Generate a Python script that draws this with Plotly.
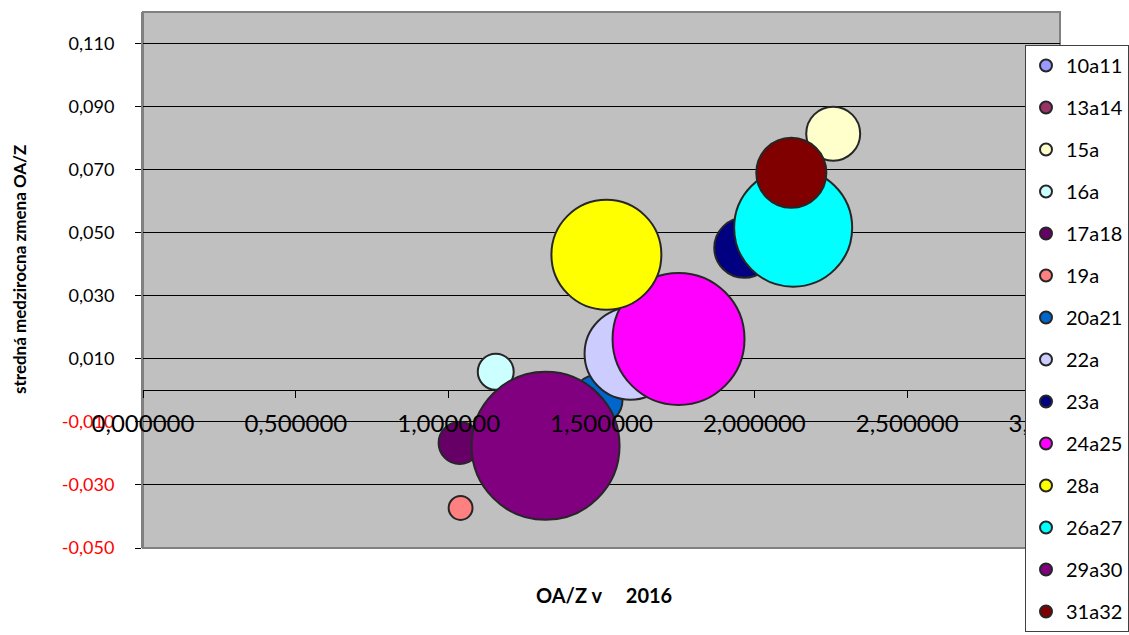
import plotly.graph_objects as go

series = ["10a11", "13a14", "15a", "16a", "17a18", "19a", "20a21", "22a",
          "23a", "24a25", "28a", "26a27", "29a30", "31a32"]
oa_z_2016 = [1.30, 2.15, 2.258, 1.154, 1.036, 1.039, 1.487, 1.595,
             1.967, 1.752, 1.516, 2.127, 1.317, 2.121]
zmena = [-0.018, 0.050, 0.0814, 0.0059, -0.0167, -0.0373, -0.0030, 0.0116,
         0.0452, 0.0163, 0.0430, 0.0516, -0.0176, 0.0690]
velkost = [4.0, 4.0, 13.3, 5.9, 8.1, 2.6, 11.4, 38.6,
           16.4, 79.5, 55.2, 63.6, 100.0, 22.4]
colors = ["#9999FF", "#993366", "#FFFFCC", "#CCFFFF", "#660066", "#FF8080", "#0066CC",
          "#CCCCFF", "#000080", "#FF00FF", "#FFFF00", "#00FFFF", "#800080", "#800000"]

y_ticks = [-0.05, -0.03, -0.01, 0.01, 0.03, 0.05, 0.07, 0.09, 0.11]
x_ticks = [0, 0.5, 1.0, 1.5, 2.0, 2.5, 3.0]

FONT = "Lato"
y_range = [-0.05, 0.12]
x_range = [0, 3]
zero_pos = (0 - y_range[0]) / (y_range[1] - y_range[0])

fig = go.Figure()
sizeref = 2 * 100.0 / 148 ** 2
for i, name in enumerate(series):
    fig.add_trace(go.Scatter(
        x=[oa_z_2016[i]], y=[zmena[i]], name=name, mode="markers",
        legendgroup=name,
        marker=dict(size=[velkost[i]], sizemode="area", sizeref=sizeref, opacity=1,
                    color=colors[i], line=dict(color="#262626", width=2)),
    ))

def fmt_y(v):
    s = f"{v:.3f}".replace(".", ",")
    if v < 0:
        return f'<span style="color:#FF0000">{s}</span>'
    return s

fig.update_layout(
    width=1129, height=635,
    margin=dict(l=143, r=69, t=12, b=87, autoexpand=False),
    paper_bgcolor="white", plot_bgcolor="#C0C0C0",
    font=dict(family=FONT, color="black"),
    showlegend=True,
    legend=dict(x=(1025 - 143) / 917, y=(548 - 45) / 536, xanchor="left", yanchor="top",
                bgcolor="white", bordercolor="#404040", borderwidth=1,
                font=dict(size=20, family=FONT), itemsizing="constant",
                tracegroupgap=13, maxheight=800, itemwidth=30),
    xaxis=dict(range=x_range, anchor="free", position=zero_pos,
               showline=True, linecolor="black", linewidth=1,
               ticks="outside", ticklen=7, tickcolor="black",
               tickvals=x_ticks, showticklabels=False,
               showgrid=False, zeroline=False, layer="below traces"),
    xaxis2=dict(range=x_range, overlaying="x", anchor="free", position=zero_pos,
                side="bottom", showline=False, ticks="", tickvals=x_ticks,
                ticktext=[f"{v:.6f}".replace(".", ",") for v in x_ticks],
                tickfont=dict(size=24, family=FONT), ticklabelstandoff=17,
                showgrid=False, zeroline=False, layer="above traces"),
    yaxis=dict(range=y_range, showline=True, linecolor="#808080", linewidth=2,
               ticks="outside", ticklen=6, tickcolor="black",
               tickvals=y_ticks, ticktext=[fmt_y(v) for v in y_ticks],
               tickfont=dict(size=18, family=FONT), ticklabelstandoff=17,
               showgrid=True, gridcolor="black", gridwidth=1, zeroline=False),
)
# invisible trace to activate xaxis2
fig.add_trace(go.Scatter(x=[None], y=[None], xaxis="x2", showlegend=False, hoverinfo="skip"))

fig.add_shape(type="rect", xref="paper", yref="paper", x0=0, x1=1, y0=0, y1=1,
              line=dict(color="#808080", width=2), layer="below")

fig.add_annotation(text="<b>stredná medzirocna zmena OA/Z</b>", xref="paper", yref="paper",
                   x=(19 - 143) / 917, y=(548 - 270) / 536, textangle=-90,
                   xanchor="center", yanchor="middle",
                   showarrow=False, font=dict(size=17, family=FONT))
fig.add_annotation(text="<b>OA/Z v\u00a0\u00a0\u00a0\u00a0\u00a02016</b>", xref="paper", yref="paper",
                   x=(604 - 143) / 917, y=(548 - 595) / 536,
                   xanchor="center", yanchor="middle",
                   showarrow=False, font=dict(size=20, family=FONT))

fig.write_html("out.html", config={"displayModeBar": False},
               post_script="document.body.style.margin='0';")
